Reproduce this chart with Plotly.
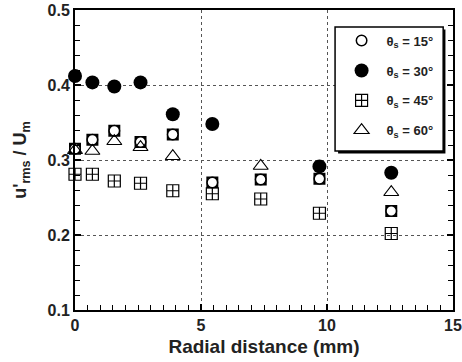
import plotly.graph_objects as go

# Data
x15 = [0, 0.69, 1.56, 2.6, 3.88, 5.45, 7.37, 9.7, 12.55]
y15 = [0.315, 0.327, 0.339, 0.324, 0.334, 0.270, 0.274, 0.275, 0.232]
x30 = [0, 0.69, 1.56, 2.6, 3.88, 5.45, 9.7, 12.55]
y30 = [0.412, 0.4035, 0.398, 0.4035, 0.361, 0.348, 0.2915, 0.283]
x45 = [0, 0.69, 1.56, 2.6, 3.88, 5.45, 7.37, 9.7, 12.55]
y45 = [0.281, 0.281, 0.272, 0.269, 0.259, 0.255, 0.248, 0.229, 0.202]
x60 = [0, 0.69, 1.56, 2.6, 3.88, 7.37, 12.55]
y60 = [0.313, 0.312, 0.325, 0.317, 0.305, 0.292, 0.257]

names = ["θ<sub>s</sub> = 15°", "θ<sub>s</sub> = 30°", "θ<sub>s</sub> = 45°", "θ<sub>s</sub> = 60°"]

FONT = "Arial, Liberation Sans, sans-serif"

fig = go.Figure()

# 15 deg: black square with a white circle inside
fig.add_trace(go.Scatter(x=x15, y=y15, mode="markers", showlegend=False,
                         marker=dict(symbol="square", size=12, color="black",
                                     line=dict(width=0)),
                         cliponaxis=False, hoverinfo="skip"))
fig.add_trace(go.Scatter(x=x15, y=y15, mode="markers", name=names[0], legendgroup="a",
                         marker=dict(symbol="circle", size=10.5, color="white",
                                     line=dict(width=1.5, color="black")),
                         cliponaxis=False))
fig.add_trace(go.Scatter(x=x30, y=y30, mode="markers", name=names[1], legendgroup="b",
                         marker=dict(symbol="circle", size=14, color="black",
                                     line=dict(width=0)),
                         cliponaxis=False))
fig.add_trace(go.Scatter(x=x45, y=y45, mode="markers", name=names[2], legendgroup="c",
                         marker=dict(symbol="square-cross-open", size=12, color="black",
                                     line=dict(width=1.2, color="black")),
                         cliponaxis=False))
fig.add_trace(go.Scatter(x=x60, y=y60, mode="markers", name=names[3], legendgroup="d",
                         marker=dict(symbol="triangle-up-open", size=13, color="black",
                                     line=dict(width=1.2, color="black")),
                         cliponaxis=False))

axis_common = dict(
    showline=True, linecolor="black", linewidth=2,
    ticks="inside", ticklen=6, tickwidth=1.5, tickcolor="black",
    showgrid=True, gridcolor="#555", griddash="dot", gridwidth=1,
    zeroline=False, automargin=False,
    tickfont=dict(family=FONT, size=16, color="#222", weight="bold"),
)

fig.update_xaxes(range=[0, 15], dtick=5, tick0=0, mirror=True,
                 minor=dict(dtick=0.5, ticks="inside", ticklen=5, tickwidth=1.2,
                            tickcolor="black", showgrid=False),
                 title=dict(text="Radial distance (mm)", standoff=6,
                            font=dict(family=FONT, size=19, color="#222", weight="bold")),
                 **axis_common)
fig.update_yaxes(range=[0.1, 0.5], dtick=0.1, tick0=0.1, mirror="ticks",
                 tickformat=".1f",
                 minor=dict(dtick=0.02, ticks="inside", ticklen=5, tickwidth=1.2,
                            tickcolor="black", showgrid=False),
                 title=dict(text="u'<sub>rms</sub> / U<sub>m</sub>", standoff=16,
                            font=dict(family=FONT, size=18, color="#222", weight="bold")),
                 **axis_common)

# legend frame with drop shadow
fig.add_shape(type="rect", xref="paper", yref="paper",
              x0=0.696, x1=0.980, y0=0.522, y1=0.935,
              fillcolor="black", line=dict(width=0), layer="above")
fig.add_shape(type="rect", xref="paper", yref="paper",
              x0=0.688, x1=0.974, y0=0.530, y1=0.943,
              fillcolor="white", line=dict(width=1.5, color="black"), layer="above")

fig.update_layout(
    width=462, height=362,
    margin=dict(l=75, r=9, t=10, b=52),
    plot_bgcolor="white", paper_bgcolor="white",
    font=dict(family=FONT, color="#222"),
    legend=dict(x=0.692, y=0.948, xanchor="left", yanchor="top",
                bgcolor="rgba(0,0,0,0)", borderwidth=0,
                font=dict(family=FONT, size=13, color="#222", weight="bold"),
                tracegroupgap=10, itemwidth=40),
    showlegend=True,
)

fig.write_html("out.html")
